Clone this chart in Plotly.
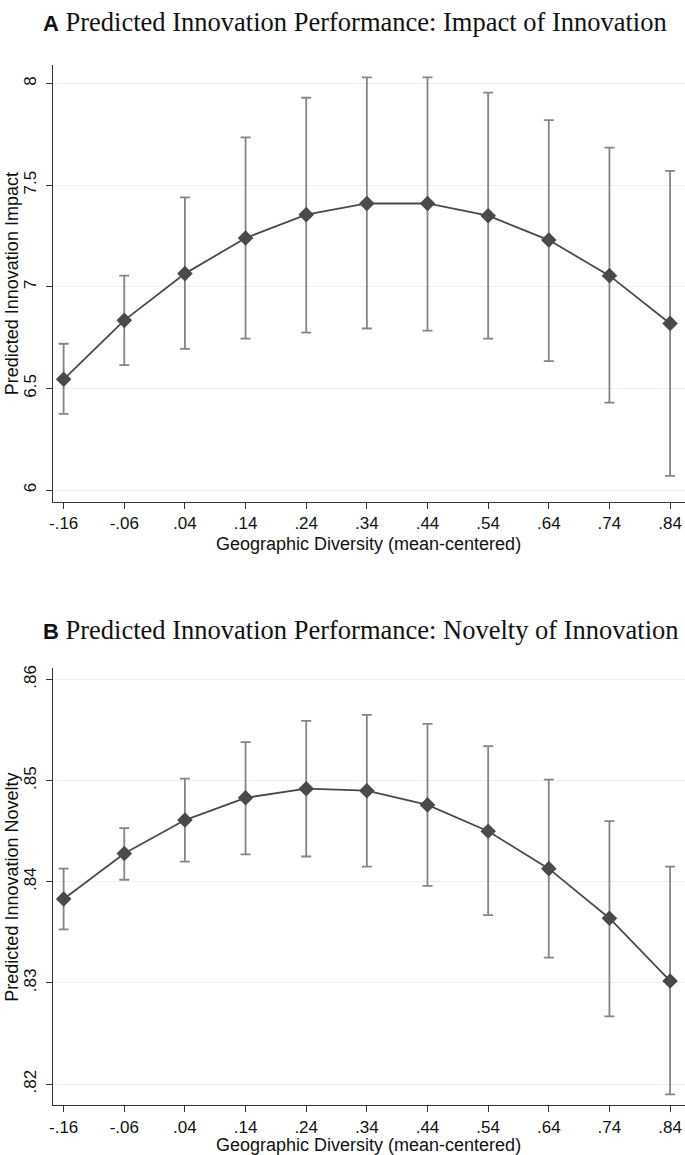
import plotly.graph_objects as go

# ---- data ----
x_vals = [-0.16, -0.06, 0.04, 0.14, 0.24, 0.34, 0.44, 0.54, 0.64, 0.74, 0.84]
x_ticktext = ["-.16", "-.06", ".04", ".14", ".24", ".34", ".44", ".54", ".64", ".74", ".84"]

impact_pred = [6.545, 6.835, 7.065, 7.240, 7.355, 7.410, 7.410, 7.350, 7.230, 7.055, 6.820]
impact_hi   = [6.720, 7.055, 7.440, 7.735, 7.930, 8.030, 8.030, 7.955, 7.820, 7.685, 7.570]
impact_lo   = [6.375, 6.615, 6.695, 6.745, 6.775, 6.795, 6.785, 6.745, 6.635, 6.430, 6.070]
impact_ticks = [6, 6.5, 7, 7.5, 8]
impact_ticktext = ["6", "6.5", "7", "7.5", "8"]

novelty_pred = [0.8383, 0.8428, 0.8461, 0.8483, 0.8492, 0.8490, 0.8476, 0.8450, 0.8413, 0.8364, 0.8302]
novelty_hi   = [0.8413, 0.8453, 0.8502, 0.8538, 0.8559, 0.8565, 0.8556, 0.8534, 0.8501, 0.8460, 0.8415]
novelty_lo   = [0.8353, 0.8402, 0.8420, 0.8427, 0.8425, 0.8415, 0.8396, 0.8367, 0.8325, 0.8267, 0.8190]
novelty_ticks = [0.82, 0.83, 0.84, 0.85, 0.86]
novelty_ticktext = [".82", ".83", ".84", ".85", ".86"]

W, H = 685, 1155
LINE = "#4a4a4a"
BAR = "#858585"
GRID = "#eaf1f3"
AX = "#333333"


def px(xp):
    return xp / W


def py(yp):
    return 1 - yp / H


fig = go.Figure()


def add_panel(pred, hi, lo, xa, ya):
    fig.add_trace(go.Scatter(
        x=x_vals, y=pred, mode="lines+markers",
        xaxis=xa, yaxis=ya,
        line=dict(color=LINE, width=1.8),
        marker=dict(symbol="diamond", size=12, color=LINE),
        error_y=dict(type="data", symmetric=False,
                     array=[h - p for h, p in zip(hi, pred)],
                     arrayminus=[p - l for p, l in zip(pred, lo)],
                     color=BAR, thickness=1.8, width=5),
        showlegend=False, hoverinfo="skip", cliponaxis=False))


add_panel(impact_pred, impact_hi, impact_lo, "x", "y")
add_panel(novelty_pred, novelty_hi, novelty_lo, "x2", "y2")

xdom = [px(49), 1.0]
ydomA = [py(500), py(62)]
ydomB = [py(1105), py(667)]

xcommon = dict(domain=xdom, range=[-0.178, 0.8646], tickmode="array",
               tickvals=x_vals, ticktext=x_ticktext, showgrid=False,
               zeroline=False, showline=True, linecolor=AX, linewidth=1.2,
               ticks="outside", ticklen=6, tickcolor=AX, tickwidth=1.2,
               tickfont=dict(family="Liberation Sans", size=17, color="#111111"),
               fixedrange=True)

ycommon = dict(showgrid=True, gridcolor=GRID, gridwidth=1, zeroline=False,
               showline=True, linecolor=AX, linewidth=1.2,
               ticks="outside", ticklen=6, tickcolor=AX, tickwidth=1.2,
               tickangle=-90, tickmode="array", ticklabelstandoff=3,
               tickfont=dict(family="Liberation Sans", size=17, color="#111111"),
               fixedrange=True)

fig.update_layout(
    width=W, height=H,
    margin=dict(l=0, r=0, t=0, b=0),
    paper_bgcolor="white", plot_bgcolor="white",
    xaxis=dict(**xcommon, anchor="y"),
    yaxis=dict(**ycommon, domain=ydomA, range=[5.943, 8.092],
               tickvals=impact_ticks, ticktext=impact_ticktext, anchor="x"),
    xaxis2=dict(**xcommon, anchor="y2"),
    yaxis2=dict(**ycommon, domain=ydomB, range=[0.81793, 0.8611],
                tickvals=novelty_ticks, ticktext=novelty_ticktext, anchor="x2"),
)


def ann(text, xpx, ypx, size, family, angle=0, xanchor="center"):
    fig.add_annotation(text=text, x=px(xpx), y=py(ypx), xref="paper", yref="paper",
                       showarrow=False, textangle=angle, xanchor=xanchor, yanchor="middle",
                       borderpad=0,
                       font=dict(family=family, size=size, color="#111111"))


title_a = ('<span style="font-family:Liberation Sans;font-size:22px"><b>A</b></span>'
           ' Predicted Innovation Performance: Impact of Innovation')
title_b = ('<span style="font-family:Liberation Sans;font-size:22px"><b>B</b></span>'
           ' Predicted Innovation Performance: Novelty of Innovation')
ann(title_a, 38, 19, 26.5, "Liberation Serif", xanchor="left")
ann(title_b, 38, 629, 26.5, "Liberation Serif", xanchor="left")

ann("Geographic Diversity (mean-centered)", 367, 542, 18, "Liberation Sans")
ann("Geographic Diversity (mean-centered)", 367, 1145, 18, "Liberation Sans")
ann("Predicted Innovation Impact", 8, 281, 18, "Liberation Sans", angle=-90)
ann("Predicted Innovation Novelty", 8, 886, 18, "Liberation Sans", angle=-90)

fig.write_html("out.html",
               config={"displayModeBar": False},
               post_script="document.body.style.margin='0';document.body.style.overflow='hidden';")
